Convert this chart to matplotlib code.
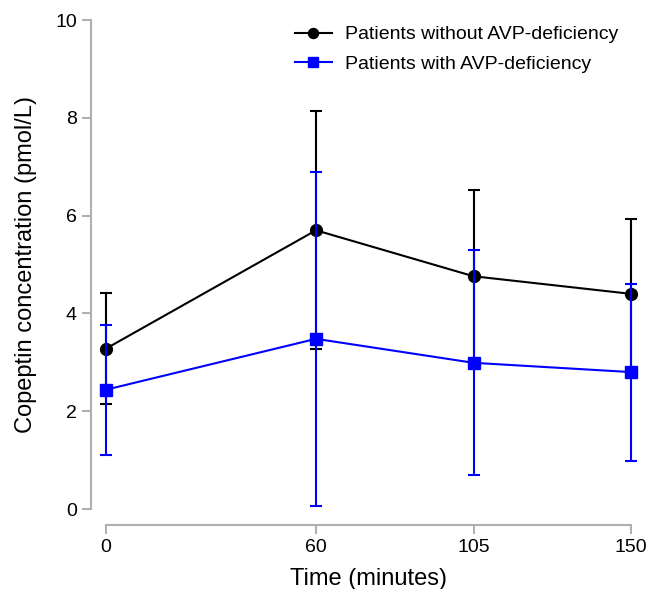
import matplotlib
matplotlib.use('Agg')
import matplotlib.pyplot as plt

plt.rcParams['font.family'] = ['Liberation Sans', 'DejaVu Sans']

times = [0, 60, 105, 150]
without_mean = [3.28, 5.70, 4.76, 4.40]
without_sd = [1.14, 2.43, 1.76, 1.53]
with_mean = [2.44, 3.48, 2.99, 2.80]
with_sd = [1.33, 3.42, 2.30, 1.81]

fig = plt.figure(figsize=(6.47, 5.89), dpi=100)
ax = fig.add_axes([0.1638, 0.1358, 0.8115, 0.8302])

eb1 = ax.errorbar(times, without_mean, yerr=without_sd, color='black', marker='o',
                  markersize=8.5, linewidth=1.5, elinewidth=1.5, capsize=4.5,
                  capthick=1.5, clip_on=False, zorder=3)
eb2 = ax.errorbar(times, with_mean, yerr=with_sd, color='#0000ff', marker='s',
                  markersize=8, linewidth=1.5, elinewidth=1.5, capsize=4.5,
                  capthick=1.5, clip_on=False, zorder=4)

ax.set_xlim(0, 150)
ax.set_ylim(0, 10)
ax.set_xticks(times)
ax.set_yticks([0, 2, 4, 6, 8, 10])

for s in ['top', 'right']:
    ax.spines[s].set_visible(False)
ax.spines['left'].set_position(('outward', 11))
ax.spines['bottom'].set_position(('outward', 11.5))
for s in ['left', 'bottom']:
    ax.spines[s].set_color('#b0b0b0')
    ax.spines[s].set_linewidth(1.5)
ax.tick_params(axis='both', colors='#b0b0b0', width=1.5, length=6.5,
               labelsize=14, labelcolor='black')

ax.set_xlabel('Time (minutes)', fontsize=17, labelpad=9)
ax.set_ylabel('Copeptin concentration (pmol/L)', fontsize=17, labelpad=13)

ax.legend([eb1[0], eb2[0]],
          ['Patients without AVP-deficiency', 'Patients with AVP-deficiency'],
          loc='upper right', bbox_to_anchor=(0.9675, 0.9695),
          bbox_transform=fig.transFigure, frameon=False, fontsize=14,
          handlelength=1.9, handletextpad=0.67, borderaxespad=0,
          labelspacing=0.6, markerscale=0.85)

fig.savefig('out.png', dpi=100)
